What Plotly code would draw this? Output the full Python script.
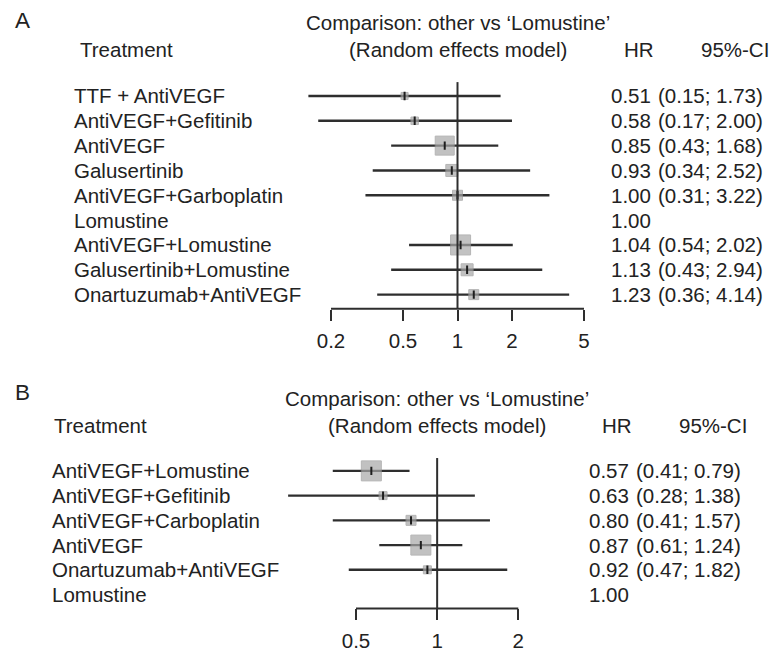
import math
import plotly.graph_objects as go

W, H = 775, 652

# ---------------- data ----------------
TREAT_A = ["TTF + AntiVEGF", "AntiVEGF+Gefitinib", "AntiVEGF", "Galusertinib",
           "AntiVEGF+Garboplatin", "Lomustine", "AntiVEGF+Lomustine",
           "Galusertinib+Lomustine", "Onartuzumab+AntiVEGF"]
HR_A = [0.51, 0.58, 0.85, 0.93, 1.00, 1.00, 1.04, 1.13, 1.23]
LO_A = [0.15, 0.17, 0.43, 0.34, 0.31, None, 0.54, 0.43, 0.36]
HI_A = [1.73, 2.00, 1.68, 2.52, 3.22, None, 2.02, 2.94, 4.14]
WT_A = [7, 7.5, 19, 12, 10, 0, 20, 12, 10]   # relative weight (box size)
TICKS_A = [0.2, 0.5, 1, 2, 5]

TREAT_B = ["AntiVEGF+Lomustine", "AntiVEGF+Gefitinib", "AntiVEGF+Carboplatin",
           "AntiVEGF", "Onartuzumab+AntiVEGF", "Lomustine"]
HR_B = [0.57, 0.63, 0.80, 0.87, 0.92, 1.00]
LO_B = [0.41, 0.28, 0.41, 0.61, 0.47, None]
HI_B = [0.79, 1.38, 1.57, 1.24, 1.82, None]
WT_B = [20, 8, 10, 20, 8, 0]
TICKS_B = [0.5, 1, 2]

TITLE = "Comparison: other vs \u2018Lomustine\u2019"
SUBTITLE = "(Random effects model)"

# ---------------- style / layout ----------------
FONT = "Liberation Sans, Arial, Helvetica, sans-serif"
FS = 20.5
TXT = "#222222"
LINE = "#2e2e2e"
BOX = "#a8a8a8"

PANELS = [
    dict(letter="A", treat=TREAT_A, hr=HR_A, lo=LO_A, hi=HI_A, wt=WT_A, ticks=TICKS_A,
         xdom=(290, 610), t0px=331, t1px=584, ydom=(83, 312), row0=97, step=25.1,
         lab_x=72, head_x=78, hr_x=653, ci_x=765, hrh_x=656, cih_x=771,
         center_x=458, title_y=23, sub_y=50, letter_y=21),
    dict(letter="B", treat=TREAT_B, hr=HR_B, lo=LO_B, hi=HI_B, wt=WT_B, ticks=TICKS_B,
         xdom=(270, 560), t0px=356, t1px=518.3, ydom=(463, 615), row0=476, step=25.0,
         lab_x=50, head_x=52, hr_x=631, ci_x=743, hrh_x=634, cih_x=749,
         center_x=437, title_y=403, sub_y=430, letter_y=397),
]


def px(x):
    return x / W


def py(y):
    return 1 - y / H


fig = go.Figure()
annotations = []
shapes = []

for k, P in enumerate(PANELS):
    sfx = "" if k == 0 else str(k + 1)
    xa, ya = "x" + sfx, "y" + sfx
    n = len(P["treat"])
    rows = [-i for i in range(n)]

    # axis ranges from tick pixel anchors
    lt0, lt1 = math.log10(P["ticks"][0]), math.log10(P["ticks"][-1])
    kk = (lt1 - lt0) / (P["t1px"] - P["t0px"])
    xr = [lt0 + (P["xdom"][0] - P["t0px"]) * kk, lt0 + (P["xdom"][1] - P["t0px"]) * kk]
    yr = [-(P["ydom"][1] - P["row0"]) / P["step"], (P["row0"] - P["ydom"][0]) / P["step"]]

    # CI lines
    lx, ly = [], []
    for r, lo, hi in zip(rows, P["lo"], P["hi"]):
        if lo is None:
            continue
        lx += [lo, hi, None]
        ly += [r, r, None]
    fig.add_trace(go.Scatter(x=lx, y=ly, mode="lines", xaxis=xa, yaxis=ya,
                             line=dict(color=LINE, width=2.4), hoverinfo="skip",
                             showlegend=False))
    # boxes
    bi = [i for i in range(n) if P["wt"][i] > 0]
    fig.add_trace(go.Scatter(x=[P["hr"][i] for i in bi], y=[rows[i] for i in bi],
                             mode="markers", xaxis=xa, yaxis=ya,
                             marker=dict(symbol="square", size=[P["wt"][i] for i in bi],
                                         color=BOX, line=dict(color="#979797", width=1)),
                             hoverinfo="skip", showlegend=False))
    # center marks
    fig.add_trace(go.Scatter(x=[P["hr"][i] for i in bi], y=[rows[i] for i in bi],
                             mode="markers", xaxis=xa, yaxis=ya,
                             marker=dict(symbol="line-ns-open", size=6, color="#1e1e1e",
                                         line=dict(color="#1e1e1e", width=2)),
                             hoverinfo="skip", showlegend=False))

    fig.update_layout(**{
        "xaxis" + sfx: dict(type="log", range=xr, domain=[px(P["xdom"][0]), px(P["xdom"][1])],
                            anchor=ya, showline=False, showgrid=False, zeroline=False,
                            tickvals=P["ticks"], ticktext=[f"{t:g}" for t in P["ticks"]],
                            ticks="outside", ticklen=11, tickwidth=2, tickcolor=LINE,
                            tickfont=dict(family=FONT, size=FS, color=TXT),
                            ticklabelstandoff=3, fixedrange=True),
        "yaxis" + sfx: dict(range=yr, domain=[py(P["ydom"][1]), py(P["ydom"][0])],
                            anchor=xa, visible=False, fixedrange=True),
    })

    # axis baseline from first to last tick, reference line at HR = 1
    shapes.append(dict(type="line", xref=xa, yref=ya + " domain",
                       x0=P["ticks"][0], x1=P["ticks"][-1], y0=0, y1=0,
                       line=dict(color=LINE, width=2)))
    shapes.append(dict(type="line", xref=xa, yref=ya + " domain",
                       x0=1, x1=1, y0=0, y1=1, line=dict(color=LINE, width=2)))

    # texts
    def ann(text, x, y, xanchor="left", yref="paper", size=FS):
        annotations.append(dict(text=text, x=x, y=y, xref="paper", yref=yref,
                                xanchor=xanchor, yanchor="middle", showarrow=False,
                                font=dict(family=FONT, size=size, color=TXT)))

    ann(P["letter"], px(13), py(P["letter_y"]), size=22.5)
    ann(TITLE, px(P["center_x"]), py(P["title_y"]), xanchor="center")
    ann(SUBTITLE, px(P["center_x"]), py(P["sub_y"]), xanchor="center")
    ann("Treatment", px(P["head_x"]), py(P["sub_y"]))
    ann("HR", px(P["hrh_x"]), py(P["sub_y"]), xanchor="right")
    ann("95%-CI", px(P["cih_x"]), py(P["sub_y"]), xanchor="right")
    for i in range(n):
        ann(P["treat"][i], px(P["lab_x"]), rows[i], yref=ya)
        ann(f"{P['hr'][i]:.2f}", px(P["hr_x"]), rows[i], xanchor="right", yref=ya)
        if P["lo"][i] is not None:
            ann(f"({P['lo'][i]:.2f}; {P['hi'][i]:.2f})", px(P["ci_x"]), rows[i],
                xanchor="right", yref=ya)

fig.update_layout(width=W, height=H, margin=dict(l=0, r=0, t=0, b=0),
                  paper_bgcolor="white", plot_bgcolor="rgba(0,0,0,0)",
                  showlegend=False, annotations=annotations, shapes=shapes,
                  hovermode=False, dragmode=False)

fig.write_html("out.html",
               config={"displayModeBar": False, "staticPlot": True},
               post_script="document.body.style.margin='0px';"
                           "document.body.style.padding='0px';"
                           "document.body.style.overflow='hidden';")
